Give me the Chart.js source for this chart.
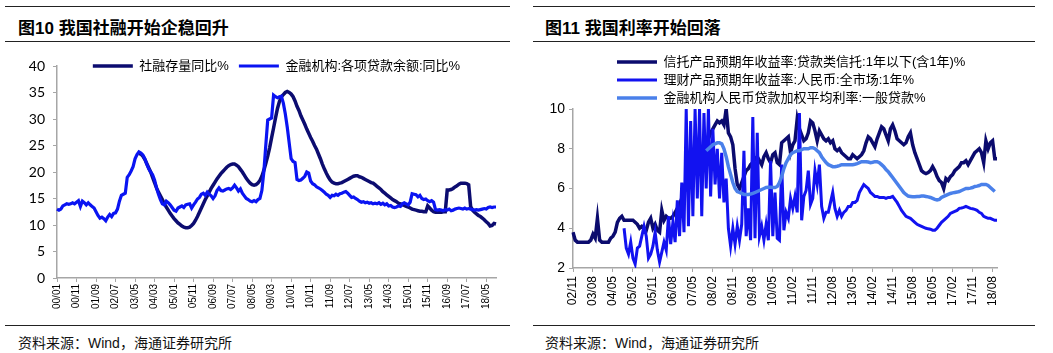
<!DOCTYPE html>
<html>
<head>
<meta charset="utf-8">
<script src="https://cdn.jsdelivr.net/npm/chart.js@4.4.1/dist/chart.umd.min.js"></script>
<style>
  body { margin: 0; background: #fff; width: 1053px; height: 353px; position: relative; overflow: hidden; }
  .rule { position: absolute; height: 0; border-top: 1.5px solid #222; }
  .title { position: absolute; top: 14px; font: bold 17px 'Liberation Sans', 'Noto Sans CJK SC', sans-serif; color: #000; white-space: nowrap; }
  .source { position: absolute; top: 332px; font: 14px 'Liberation Sans', 'Noto Sans CJK SC', sans-serif; color: #111; white-space: nowrap; }
  canvas { position: absolute; top: 44px; }
</style>
</head>
<body>
<div class="rule" style="left:5px;width:505px;top:6px"></div>
<div class="rule" style="left:5px;width:505px;top:41px"></div>
<div class="rule" style="left:5px;width:505px;top:325px"></div>
<div class="rule" style="left:533px;width:502px;top:6px"></div>
<div class="rule" style="left:533px;width:502px;top:41px"></div>
<div class="rule" style="left:533px;width:502px;top:325px"></div>
<div class="title" style="left:18px">图10 我国社融开始企稳回升</div>
<div class="title" style="left:545px">图11 我国利率开始回落</div>
<div class="source" style="left:18px">资料来源：Wind，海通证券研究所</div>
<div class="source" style="left:545px">资料来源：Wind，海通证券研究所</div>
<canvas id="chart-left" width="520" height="281" style="left:0px"></canvas>
<canvas id="chart-right" width="533" height="281" style="left:520px"></canvas>
<script>
// monthly category labels like "00/01"
function monthLabels(year, month, count) {
  var out = [];
  for (var k = 0; k < count; k++) {
    var y = year + Math.floor((month - 1 + k) / 12);
    var m = (month - 1 + k) % 12 + 1;
    out.push(String(y % 100).padStart(2, '0') + '/' + String(m).padStart(2, '0'));
  }
  return out;
}

// ---- left chart data (2000/01 - 2018/10) ----
const leftMonths = monthLabels(2000, 1, 226);
const leftTickEvery = 10;
const leftNames = ['社融存量同比%', '金融机构:各项贷款余额:同比%'];
const loanYoy = [
  13.0, 12.8, 13.0, 13.6, 13.8, 14.0, 13.9, 14.0, 14.2, 14.0,
  14.3, 14.6, 13.5, 14.5, 14.2, 13.8, 14.2, 13.8, 13.5, 13.2,
  12.5, 11.8, 11.3, 11.5, 11.2, 10.8, 11.5, 12.0, 11.6, 12.2,
  12.3, 13.0, 14.5, 15.6, 15.8, 16.0, 19.0, 19.5, 20.2, 21.0,
  22.5, 23.3, 23.8, 23.6, 23.2, 22.5, 21.5, 20.6, 20.0, 19.5,
  18.5, 17.0, 15.8, 14.8, 14.0, 13.8, 14.5, 14.2, 13.8, 13.3,
  12.8, 12.6, 13.2, 13.4, 13.6, 13.3, 13.8, 13.9, 14.0, 13.2,
  13.8, 14.3, 14.9, 15.2, 15.8, 16.0, 15.6, 16.2, 15.8, 15.5,
  15.0, 15.5, 16.5, 17.0, 16.5, 16.4, 16.6, 16.8, 16.9, 16.7,
  17.0, 17.5, 17.0, 16.4, 16.8, 16.0, 15.5, 15.0, 14.8, 14.5,
  14.4, 14.6, 14.4, 14.8, 15.0, 16.5, 20.0, 25.0, 29.8, 30.0,
  30.2, 34.5, 34.2, 34.0, 34.2, 34.3, 33.0, 31.0, 28.5, 25.5,
  22.5, 22.0, 21.8, 18.6, 18.4, 18.5, 18.8, 19.2, 20.0, 19.8,
  18.3, 17.8, 17.6, 17.2, 17.0, 16.8, 16.5, 16.2, 15.8, 15.6,
  15.2, 15.6, 15.5, 15.8, 15.6, 15.9, 16.0, 16.2, 16.3, 16.0,
  15.6, 15.2, 15.3, 15.0, 14.8, 14.5, 14.3, 14.4, 14.2, 14.3,
  14.1, 14.2, 14.0, 14.1, 14.0, 14.2, 13.9, 14.1, 13.8, 14.0,
  13.6, 13.7, 13.4, 13.3, 13.4, 13.6, 13.5, 14.0, 14.2, 14.0,
  13.8, 14.3, 15.9, 15.8, 15.7, 15.3, 15.6, 15.0, 14.8, 14.9,
  14.6, 14.4, 14.6, 14.3, 12.9, 12.8, 12.9, 12.8, 12.7, 12.9,
  12.8, 13.0, 12.7, 12.8, 13.0, 13.1, 13.2, 13.1, 13.0, 13.2,
  13.0, 13.1, 13.0, 12.9, 12.8, 12.9, 12.8, 12.9, 13.0, 13.1,
  13.0, 13.3, 13.4, 13.3, 13.4, 13.4
];
const tsfYoy = [
  null, null, null, null, null, null, null, null, null, null,
  null, null, null, null, null, null, null, null, null, null,
  null, null, null, null, null, null, null, null, null, null,
  null, null, null, null, null, null, null, null, null, null,
  null, null, 23.5, 23.4, 23.0, 22.4, 21.6, 20.8, 20.0, 19.0,
  18.0, 17.0, 16.2, 15.5, 14.8, 14.0, 13.4, 12.8, 12.2, 11.7,
  11.2, 10.8, 10.4, 10.1, 9.8, 9.6, 9.5, 9.5, 9.6, 9.9,
  10.3, 10.9, 11.6, 12.4, 13.2, 14.0, 14.8, 15.5, 16.2, 16.9,
  17.5, 18.1, 18.7, 19.2, 19.7, 20.1, 20.5, 20.9, 21.2, 21.4,
  21.5, 21.5, 21.3, 21.0, 20.5, 20.0, 19.4, 18.8, 18.3, 17.9,
  17.6, 17.5, 17.6, 17.9, 18.4, 19.2, 20.3, 21.6, 23.0, 24.6,
  26.5, 28.3, 30.2, 32.0, 33.3, 34.2, 34.6, 35.0, 35.2, 35.0,
  34.7, 34.2, 33.4, 32.4, 31.6, 30.6, 29.8, 29.0, 28.1, 27.3,
  26.5, 25.8, 25.0, 24.3, 23.4, 22.5, 21.5, 20.6, 19.8, 19.1,
  18.5, 18.1, 17.9, 17.8, 17.8, 17.9, 18.0, 18.2, 18.4, 18.6,
  18.8, 19.0, 19.2, 19.3, 19.3, 19.1, 19.0, 18.8, 18.6, 18.4,
  18.2, 18.0, 17.9, 17.6, 17.3, 17.0, 16.7, 16.3, 16.0, 15.7,
  15.4, 15.1, 14.8, 14.6, 14.4, 14.1, 14.0, 13.8, 13.7, 13.5,
  13.4, 13.2, 13.0, 12.9, 12.8, 12.7, 12.6, 12.6, 12.5, 12.5,
  13.6, 13.2, 12.8, 12.5, 12.4, 12.4, 12.4, 12.4, 12.5, 12.5,
  16.6, 16.6, 16.7, 16.9, 17.2, 17.4, 17.7, 17.9, 17.9, 17.9,
  17.8, 17.6, 13.5, 12.8, 12.4, 12.1, 11.8, 11.6, 11.3, 11.0,
  10.6, 10.3, 9.8, 9.9, 10.3, 10.2
];

// ---- right chart data (2002/11 - 2018/10) ----
const rightMonths = monthLabels(2002, 11, 192);
const rightTickEvery = 9;
const rightNames = [
  '信托产品预期年收益率:贷款类信托:1年以下(含1年)%',
  '理财产品预期年收益率:人民币:全市场:1年%',
  '金融机构人民币贷款加权平均利率:一般贷款%'
];
const trustYield = [
  3.8, 3.4, 3.3, 3.3, 3.3, 3.3, 3.3, 3.3, 3.4, 3.7,
  3.5, 4.5, 3.4, 3.3, 3.3, 3.3, 3.3, 3.5, 3.6, 3.8,
  4.3, 4.5, 4.6, 4.4, 4.4, 4.4, 4.4, 4.4, 4.3, 4.2,
  4.0, 4.1, 4.0, 3.9, 4.3, 4.5, 4.0, 4.2, 3.9, 3.8,
  4.9, 4.4, 4.6, 4.5, 4.5, 4.6, 4.8, 5.0, 5.2, 5.5,
  5.8, 6.0, 6.3, 6.5, 6.8, 7.0, 7.2, 7.5, 7.8, 8.0,
  8.2, 8.5, 8.8, 9.0, 9.2, 9.4, 9.3, 9.4, 9.2, 10.0,
  8.8, 8.6, 8.2, 7.0, 6.2, 6.0, 6.3, 6.6, 6.9, 7.0,
  7.2, 7.3, 7.5, 7.6, 7.4, 7.2, 7.6, 7.8, 7.5, 7.3,
  7.7, 7.8, 7.3, 7.2, 8.3, 8.4, 8.5, 8.6, 7.8, 8.2,
  8.4, 9.5, 9.0, 8.7, 8.4, 8.5, 8.8, 9.4, 9.3, 8.9,
  8.4, 8.9, 8.7, 8.5, 8.4, 8.5, 8.3, 8.4, 8.0, 7.9,
  8.0, 7.8, 7.7, 7.6, 7.5, 7.5, 7.7, 7.6, 7.5, 7.6,
  7.7, 7.9, 8.3, 8.6, 8.5, 8.3, 8.1, 8.5, 8.8, 9.1,
  9.0, 8.7, 8.4, 9.0, 9.2, 8.9, 8.5, 8.4, 8.3, 8.2,
  8.3, 8.6, 8.8, 8.2, 7.8, 7.5, 7.2, 6.9, 6.8, 6.75,
  6.8, 6.9, 7.1, 6.9, 6.6, 6.4, 6.3, 6.0, 6.5, 6.4,
  6.6, 6.7, 6.9, 7.0, 7.1, 7.3, 7.3, 7.4, 7.2, 7.4,
  7.6, 7.8, 7.9, 8.0, 7.8, 7.3, 8.4, 8.0, 8.3, 8.4,
  7.5, 7.5
];
const wmpYield = [
  null, null, null, null, null, null, null, null, null, null,
  null, null, null, null, null, null, null, null, null, null,
  null, null, null, 4.0, 3.0, 2.7, 3.3, 2.5, 2.2, 3.0,
  3.1, 3.6, 4.1, 3.6, 2.5, 2.7, 3.1, 3.8, 2.9, 2.3,
  2.8, 3.3, 2.9, 4.6, 3.2, 4.3, 3.3, 5.4, 3.6, 6.3,
  3.8, 10.0, 4.1, 9.4, 4.6, 10.0, 5.5, 10.0, 4.6, 9.8,
  6.0, 10.0, 5.6, 9.0, 6.2, 8.0, 5.5, 7.8, 5.3, 6.5,
  4.0, 3.1, 4.0, 3.2, 4.1, 3.4, 4.2, 7.9, 3.6, 5.0,
  3.4, 9.6, 3.5, 8.8, 3.6, 4.1, 3.4, 4.2, 3.4, 7.4,
  3.6, 5.8, 3.5, 3.4, 7.2, 3.9, 4.8, 4.5, 5.5, 5.0,
  5.6, 4.8, 9.8, 4.4, 5.6, 5.9, 6.9, 5.2, 5.5, 6.9,
  6.2, 7.2, 5.1, 4.5, 4.8, 4.8, 5.3, 5.8, 5.0, 4.6,
  4.9, 4.6, 4.8, 4.9, 5.1, 5.1, 5.3, 5.3, 5.4, 5.8,
  6.0, 6.2, 6.1, 6.0, 5.8, 5.7, 5.6, 5.6, 5.55, 5.55,
  5.55, 5.5, 5.55, 5.55, 5.6, 5.45, 5.3, 5.1, 4.9, 4.75,
  4.6, 4.55, 4.5, 4.4, 4.3, 4.2, 4.15, 4.1, 4.05, 4.0,
  3.97, 3.95, 3.9, 3.9, 4.0, 4.15, 4.3, 4.4, 4.5, 4.6,
  4.75, 4.8, 4.85, 4.9, 5.0, 5.02, 5.05, 5.1, 5.05, 5.0,
  4.98, 4.95, 4.9, 4.8, 4.75, 4.6, 4.55, 4.5, 4.5, 4.45,
  4.4, 4.4
];
const loanRate = [
  null, null, null, null, null, null, null, null, null, null,
  null, null, null, null, null, null, null, null, null, null,
  null, null, null, null, null, null, null, null, null, null,
  null, null, null, null, null, null, null, null, null, null,
  null, null, null, null, null, null, null, null, null, null,
  null, null, null, null, null, null, null, null, null, null,
  7.9, 8.0, 8.1, 8.2, 8.25, 8.3, 8.3, 8.25, 8.0, 7.6,
  7.1, 6.7, 6.3, 6.0, 5.85, 5.8, 5.75, 5.7, 5.7, 5.7,
  5.72, 5.75, 5.8, 5.85, 5.9, 5.95, 6.0, 6.05, 6.06, 6.06,
  6.05, 6.05, 6.1, 6.3, 6.6, 7.0, 7.3, 7.5, 7.7, 7.8,
  7.85, 7.9, 7.9, 7.95, 8.0, 8.0, 8.0, 8.05, 8.05, 8.0,
  7.9, 7.8, 7.6, 7.45, 7.3, 7.2, 7.15, 7.1, 7.1, 7.12,
  7.15, 7.2, 7.2, 7.2, 7.2, 7.2, 7.2, 7.22, 7.25, 7.3,
  7.35, 7.35, 7.35, 7.33, 7.3, 7.32, 7.35, 7.35, 7.3, 7.2,
  7.1, 6.95, 6.85, 6.7, 6.55, 6.4, 6.25, 6.1, 5.95, 5.8,
  5.7, 5.62, 5.6, 5.58, 5.58, 5.6, 5.6, 5.62, 5.62, 5.6,
  5.58, 5.55, 5.5, 5.45, 5.42, 5.45, 5.55, 5.6, 5.65, 5.7,
  5.75, 5.78, 5.8, 5.82, 5.85, 5.9, 5.95, 6.0, 6.0, 6.02,
  6.05, 6.1, 6.12, 6.15, 6.2, 6.2, 6.2, 6.15, 6.05, 5.95,
  5.85, null
];

// moves the legend box to a fixed spot (it is drawn inside the plot)
const legendPos = {
  id: 'legendPos',
  beforeDraw(chart, args, opts) {
    const lg = chart.legend;
    if (opts.left !== undefined) lg.left = opts.left;
    if (opts.top !== undefined) lg.top = opts.top;
    if (opts.bottom !== undefined) lg.bottom = opts.bottom;
  }
};

const axisGrey = '#a6a6a6';
const fontFamily = "'Liberation Sans', 'Noto Sans CJK SC', sans-serif";

function everyNth(n) {
  return function(scale) {
    scale.ticks = scale.ticks.filter(function(t, i) { return i % n === 0; });
  };
}

function lineSet(label, data, color, width, order) {
  return {
    label: label,
    data: data,
    borderColor: color,
    backgroundColor: color,
    borderWidth: width,
    pointRadius: 0,
    tension: 0,
    spanGaps: false,
    order: order
  };
}

const chartLeft = new Chart(document.getElementById('chart-left'), {
  type: 'line',
  data: {
    labels: leftMonths,
    datasets: [
      lineSet(leftNames[0], tsfYoy, '#0c0c70', 3.5, 1),
      lineSet(leftNames[1], loanYoy, '#0a14f2', 3.2, 0)
    ]
  },
  options: {
    responsive: false,
    animation: false,
    // legend row is 33px tall, pull it up so the plot top stays at 22px
    layout: { padding: { left: 0, right: 24, top: -11, bottom: 0 } },
    plugins: {
      tooltip: { enabled: false },
      legend: {
        position: 'top',
        align: 'center',
        labels: {
          usePointStyle: true,
          pointStyle: 'line',
          pointStyleWidth: 40,
          padding: 10,
          color: '#000',
          font: { family: fontFamily, size: 13 },
          sort: function(a, b) { return a.datasetIndex - b.datasetIndex; }
        }
      },
      legendPos: { left: 57, top: 5.5, bottom: 45 }
    },
    scales: {
      x: {
        afterBuildTicks: everyNth(leftTickEvery),
        afterFit: function(scale) { scale.height = 47; },
        grid: { drawOnChartArea: false, tickLength: 4, color: axisGrey },
        border: { color: axisGrey, width: 1.5 },
        ticks: {
          autoSkip: false, maxRotation: 90, minRotation: 90, padding: 2,
          color: '#000', font: { family: fontFamily, size: 10 }
        }
      },
      y: {
        min: 0, max: 40,
        afterFit: function(scale) { scale.width = 57; },
        grid: { drawOnChartArea: false, tickLength: 4, color: axisGrey },
        border: { color: axisGrey, width: 1.5 },
        ticks: { stepSize: 5, padding: 8, color: '#000', font: { family: 'Lato, ' + fontFamily, size: 14 } }
      }
    }
  },
  plugins: [legendPos]
});

const chartRight = new Chart(document.getElementById('chart-right'), {
  type: 'line',
  data: {
    labels: rightMonths,
    datasets: [
      lineSet(rightNames[0], trustYield, '#0b0b6e', 3.5, 2),
      lineSet(rightNames[1], wmpYield, '#1212f0', 3, 1),
      lineSet(rightNames[2], loanRate, '#4a80ea', 3.5, 0)
    ]
  },
  options: {
    responsive: false,
    animation: false,
    layout: { padding: { left: 0, right: 56, top: 65, bottom: 0 } },
    plugins: {
      tooltip: { enabled: false },
      legend: {
        position: 'chartArea',
        align: 'start',
        labels: {
          usePointStyle: true,
          pointStyle: 'line',
          pointStyleWidth: 40,
          padding: 5,
          color: '#000',
          font: { family: fontFamily, size: 13 },
          sort: function(a, b) { return a.datasetIndex - b.datasetIndex; }
        }
      },
      legendPos: { left: 92, top: 6.5 }
    },
    scales: {
      x: {
        afterBuildTicks: everyNth(rightTickEvery),
        afterFit: function(scale) { scale.height = 57; },
        grid: { drawOnChartArea: false, tickLength: 4, color: axisGrey },
        border: { color: axisGrey, width: 1.5 },
        ticks: {
          autoSkip: false, maxRotation: 90, minRotation: 90, padding: 4,
          color: '#000', font: { family: fontFamily, size: 12 }
        }
      },
      y: {
        min: 2, max: 10,
        afterFit: function(scale) { scale.width = 53; },
        grid: { drawOnChartArea: false, tickLength: 4, color: axisGrey },
        border: { color: axisGrey, width: 1.5 },
        ticks: { stepSize: 2, padding: 4, color: '#000', font: { family: fontFamily, size: 14 } }
      }
    }
  },
  plugins: [legendPos]
});
</script>
</body>
</html>
